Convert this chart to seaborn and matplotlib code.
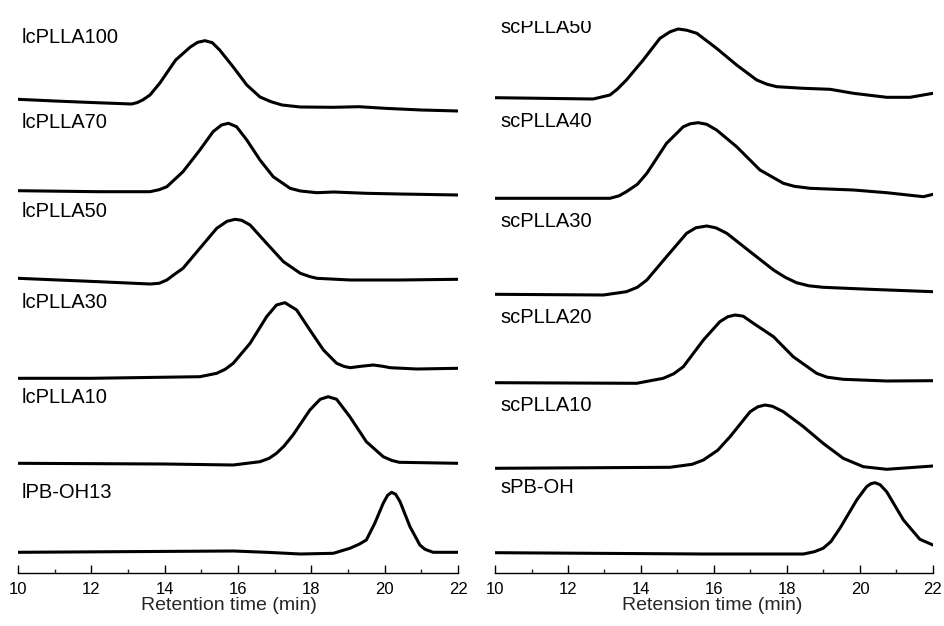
import numpy as np
import pandas as pd
import matplotlib
matplotlib.use("Agg")
import matplotlib.pyplot as plt
import seaborn as sns
from matplotlib.ticker import MultipleLocator

# ---------------- data (retention time in min, detector signal in arbitrary units) ----------------
# left panel (linear)
t_lc100 = [10, 11, 12, 13.1, 13.25, 13.4, 13.6, 13.87, 14.3, 14.7, 14.9, 15.1, 15.3, 15.5, 15.87, 16.24, 16.6, 16.9, 17.2, 17.7, 18.6, 19.3, 20, 21, 22]
s_lc100 = [0, -1.7, -3.2, -4.7, -3.3, -0.7, 4.3, 16.3, 39.3, 52.3, 57, 58.6, 56.6, 49.3, 32.3, 14.3, 2.3, -2.4, -5.7, -7.7, -8, -7.4, -9, -10.7, -11.7]

t_lc70 = [10, 12.2, 13.6, 13.85, 14.06, 14.5, 14.96, 15.32, 15.55, 15.74, 15.96, 16.24, 16.6, 16.96, 17.42, 17.7, 18.15, 18.6, 19.5, 20.4, 22]
s_lc70 = [0, -1, -1, 1, 4, 19, 40.7, 59, 65.7, 67.4, 64, 50.7, 30.7, 14, 2.4, -0.3, -2, -1.3, -2.6, -3.3, -4.3]

t_lc50 = [10, 12.2, 13.6, 13.85, 14.06, 14.25, 14.5, 14.96, 15.42, 15.7, 15.92, 16.1, 16.33, 16.78, 17.24, 17.7, 17.95, 18.15, 19.06, 20.4, 22]
s_lc50 = [0, -3.4, -5.7, -5, -1.7, 3.5, 10, 30, 50, 57, 59, 58, 53.3, 35, 16.6, 5, 1.8, 0, -1.7, -1.7, -1]

t_lc30 = [10, 12, 14.96, 15.42, 15.65, 15.87, 16.33, 16.78, 17.05, 17.28, 17.6, 17.96, 18.33, 18.69, 18.9, 19.06, 19.35, 19.69, 19.95, 20.15, 20.88, 22]
s_lc30 = [0, 0, 1.6, 5, 9, 15, 35, 61.6, 73.3, 75.6, 68.3, 48.3, 28.3, 15, 11.8, 10.6, 12, 13.3, 12, 10.6, 9.3, 10]

t_lc10 = [10, 14, 15.87, 16.6, 16.85, 17.05, 17.25, 17.5, 17.96, 18.24, 18.46, 18.69, 19.05, 19.5, 19.96, 20.2, 20.4, 22]
s_lc10 = [0, -0.7, -1.7, 1.6, 5, 10, 17, 28.3, 53.3, 64, 66.6, 64, 46.6, 21.6, 6.6, 2.8, 1, 0]

t_lpb = [10, 15.87, 16.78, 17.7, 18.6, 19.05, 19.3, 19.5, 19.73, 19.96, 20.08, 20.19, 20.3, 20.42, 20.69, 20.96, 21.1, 21.32, 22]
s_lpb = [0, 1.3, 0, -1.7, -1, 4, 8, 12.3, 29, 49, 57, 60, 58, 50.6, 25.6, 7.3, 3, 0, 0]

# right panel (star)
t_sc50 = [10, 12.69, 13.15, 13.35, 13.6, 14.06, 14.52, 14.8, 15.02, 15.25, 15.53, 16.07, 16.62, 17.17, 17.45, 17.72, 18.45, 19.18, 19.82, 20.73, 21.37, 22]
s_sc50 = [0, -1.3, 2.7, 8.5, 17.7, 37.7, 59.4, 66, 68.7, 67.5, 64.4, 49.4, 32.7, 17.7, 13.5, 11, 9.4, 8.4, 4.4, 0.4, 0.4, 4.4]

t_sc40 = [10, 13.15, 13.4, 13.6, 13.9, 14.16, 14.7, 15.16, 15.35, 15.57, 15.8, 16.07, 16.62, 17.26, 17.9, 18.2, 18.63, 19.82, 20.73, 21.74, 22]
s_sc40 = [0, 0, 2.5, 6.6, 14, 25, 55, 71.6, 74.5, 75.6, 74, 68.3, 51.6, 28.3, 15, 12, 10, 8.3, 5.6, 1.6, 4]

t_sc30 = [10, 12.97, 13.6, 13.9, 14.16, 14.7, 15.25, 15.5, 15.8, 16.05, 16.35, 16.99, 17.63, 17.95, 18.26, 18.6, 18.99, 20.27, 22]
s_sc30 = [0, -0.7, 2.6, 7, 14.3, 37.6, 61, 66.5, 68.3, 66.5, 61, 42.6, 24.3, 17, 11.6, 8.5, 7, 5, 2.6]

t_sc20 = [10, 13.88, 14.61, 14.9, 15.16, 15.71, 16.16, 16.38, 16.58, 16.8, 17.08, 17.63, 18.17, 18.81, 19.1, 19.54, 20.73, 22]
s_sc20 = [0, -0.6, 4.4, 9, 16, 42.7, 61, 66, 67.7, 66.5, 59.4, 46, 26, 9.4, 5.5, 3.4, 1.7, 2]

t_sc10 = [10, 14.79, 15.4, 15.71, 16.1, 16.44, 16.99, 17.2, 17.4, 17.6, 17.9, 18.45, 18.99, 19.54, 20.09, 20.73, 22]
s_sc10 = [0, 1, 4, 8.3, 18, 31.6, 56.6, 61.5, 63.3, 62, 56.6, 41.6, 25, 10, 1.6, -1, 2.3]

t_spb = [10, 15.71, 18.45, 18.75, 18.99, 19.2, 19.45, 19.91, 20.18, 20.3, 20.41, 20.55, 20.73, 21.19, 21.64, 22]
s_spb = [0, -1.3, -1.3, 1, 4.4, 11, 24.4, 52.7, 66, 69, 70, 68, 61, 32.7, 13.4, 7.7]

left_names = ["lcPLLA100", "lcPLLA70", "lcPLLA50", "lcPLLA30", "lcPLLA10", "lPB-OH13"]
right_names = ["scPLLA50", "scPLLA40", "scPLLA30", "scPLLA20", "scPLLA10", "sPB-OH"]
left_series = [(t_lc100, s_lc100), (t_lc70, s_lc70), (t_lc50, s_lc50),
               (t_lc30, s_lc30), (t_lc10, s_lc10), (t_lpb, s_lpb)]
right_series = [(t_sc50, s_sc50), (t_sc40, s_sc40), (t_sc30, s_sc30),
                (t_sc20, s_sc20), (t_sc10, s_sc10), (t_spb, s_spb)]
xlabels = ["Retention time (min)", "Retension time (min)"]

# ---------------- layout (stacking offsets and label heights) ----------------
left_offsets = [473.2, 381.8, 294.2, 194.2, 109.2, 20.2]
right_offsets = [474.8, 374.2, 278.2, 189.8, 104.2, 19.8]
left_label_y = [529.8, 444.2, 355.2, 264.2, 169.2, 74.2]
right_label_y = [539.2, 445.2, 345.2, 249.8, 161.8, 79.2]


def build_frame(names, series, offsets):
    rows = []
    for name, (t, s), off in zip(names, series, offsets):
        for ti, si in zip(t, s):
            rows.append({"sample": name, "time": ti, "signal": si + off})
    return pd.DataFrame(rows)


sns.set_style("ticks")
plt.rcParams["font.family"] = ["Liberation Sans", "DejaVu Sans"]

fig = plt.figure(figsize=(9.45, 6.26), dpi=100)
W, H = 945.0, 626.0
ax_bottom_px = 572.5
ax_top_px = 21.0
ax_h_px = ax_bottom_px - ax_top_px
axL = fig.add_axes([18 / W, (H - ax_bottom_px) / H, 440 / W, ax_h_px / H])
axR = fig.add_axes([495 / W, (H - ax_bottom_px) / H, 438 / W, ax_h_px / H])

panels = [
    (axL, left_names, left_series, left_offsets, left_label_y, 22, xlabels[0], 0.48),
    (axR, right_names, right_series, right_offsets, right_label_y, 500, xlabels[1], 0.497),
]

for ax, names, series, offsets, label_y, label_x_px, xlabel, lx in panels:
    df = build_frame(names, series, offsets)
    sns.lineplot(data=df, x="time", y="signal", units="sample", estimator=None,
                 sort=False, color="black", linewidth=2.2, ax=ax, legend=False)
    ax.set_xlim(10, 22)
    ax.set_ylim(0, ax_h_px)
    ax.xaxis.set_major_locator(MultipleLocator(2))
    ax.xaxis.set_minor_locator(MultipleLocator(1))
    ax.tick_params(axis="x", which="major", direction="in", length=6, width=1,
                   labelsize=12, pad=7, colors="black")
    ax.tick_params(axis="x", which="minor", direction="in", length=3, width=1)
    ax.set_yticks([])
    ax.set_ylabel("")
    for sp in ["left", "top", "right"]:
        ax.spines[sp].set_visible(False)
    ax.spines["bottom"].set_linewidth(1)
    ax.spines["bottom"].set_color("black")
    ax.set_xlabel(xlabel, fontsize=14)
    ax.xaxis.label.set_va("baseline")
    ax.xaxis.set_label_coords(lx, -(610.0 - ax_bottom_px) / ax_h_px)
    x0_px = ax.get_position().x0 * W
    w_px = ax.get_position().width * W
    lab_x = 10 + (label_x_px - x0_px) / w_px * 12
    for name, ly in zip(names, label_y):
        ax.text(lab_x, ly, name, fontsize=14.5, ha="left", va="baseline",
                color="black", clip_on=True)
    ax.set_facecolor("white")

fig.savefig("out.png", dpi=100)
